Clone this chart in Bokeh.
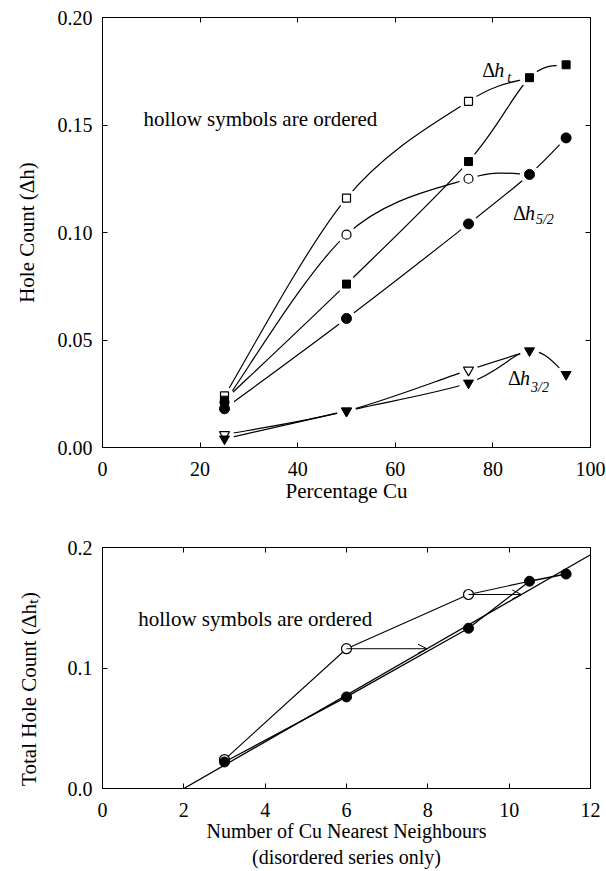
import numpy as np
from bokeh.plotting import figure
from bokeh.layouts import column
from bokeh.models import (Label, FixedTicker, PrintfTickFormatter, LinearAxis,
                          Arrow, OpenHead, CustomJSTickFormatter)
from bokeh.embed import file_html
from bokeh.resources import INLINE

# ---- data -------------------------------------------------------------
# upper panel: hole counts against percentage Cu
pct_cu = [25, 50, 75, 87.5, 95]          # disordered series
pct_cu_ord = [25, 50, 75, 87.5]          # ordered series

ht_dis = [0.022, 0.076, 0.133, 0.172, 0.178]     # Δh_t, filled squares
ht_ord = [0.024, 0.116, 0.161, 0.172]            # Δh_t, hollow squares
h52_dis = [0.018, 0.060, 0.104, 0.127, 0.144]    # Δh_5/2, filled circles
h52_ord = [0.021, 0.099, 0.125, 0.127]           # Δh_5/2, hollow circles
h32_dis = [0.004, 0.017, 0.030, 0.045, 0.034]    # Δh_3/2, filled triangles
h32_ord = [0.006, 0.017, 0.036, 0.045]           # Δh_3/2, hollow triangles

# lower panel: total hole count against number of Cu nearest neighbours
nn_cu = [3, 6, 9, 10.5, 11.4]
nn_cu_ord = [3, 6, 9, 10.5]
fit_x0 = 2.0        # linear fit crosses zero here
fit_slope = 0.0194  # per neighbour
fit_xend = 12.0

top_xticks = [0, 20, 40, 60, 80, 100]
top_yticks = [0.0, 0.05, 0.10, 0.15, 0.20]
bot_xticks = [0, 2, 4, 6, 8, 10, 12]
bot_yticks = [0.0, 0.1, 0.2]

SERIF = "Liberation Serif, Times New Roman, serif"


def catmull_bezier(xs, ys):
    """Bezier control points for a smooth curve through the given points."""
    P = [np.array([x, y], dtype=float) for x, y in zip(xs, ys)]
    n = len(P)
    out = {k: [] for k in ("x0", "y0", "x1", "y1", "cx0", "cy0", "cx1", "cy1")}
    for i in range(n - 1):
        p0 = P[i - 1] if i > 0 else P[i]
        p1, p2 = P[i], P[i + 1]
        p3 = P[i + 2] if i + 2 < n else P[i + 1]
        c1 = p1 + (p2 - p0) / 6.0
        c2 = p2 - (p3 - p1) / 6.0
        out["x0"].append(p1[0]); out["y0"].append(p1[1])
        out["x1"].append(p2[0]); out["y1"].append(p2[1])
        out["cx0"].append(c1[0]); out["cy0"].append(c1[1])
        out["cx1"].append(c2[0]); out["cy1"].append(c2[1])
    return out


def style_axes(p, xticks, yticks, yfmt, xstand, ystand, fsize,
               xlabel, ylabel, xl_stand, yl_stand, xl_size, yl_size):
    p.xaxis.ticker = FixedTicker(ticks=xticks)
    p.yaxis.ticker = FixedTicker(ticks=yticks)
    p.yaxis.formatter = PrintfTickFormatter(format=yfmt)
    for ax in (p.xaxis[0], p.yaxis[0]):
        ax.major_tick_in = 5
        ax.major_tick_out = 0
        ax.minor_tick_line_color = None
        ax.axis_line_color = "black"
        ax.major_tick_line_color = "black"
        ax.major_label_text_font = SERIF
        ax.major_label_text_font_size = fsize
        ax.major_label_text_color = "black"
        ax.axis_label_text_font = SERIF
        ax.axis_label_text_font_style = "normal"
        ax.axis_label_text_color = "black"
    p.xaxis.major_label_standoff = xstand
    p.yaxis.major_label_standoff = ystand
    p.xaxis.axis_label = xlabel
    p.yaxis.axis_label = ylabel
    p.xaxis.axis_label_standoff = xl_stand
    p.yaxis.axis_label_standoff = yl_stand
    p.xaxis.axis_label_text_font_size = xl_size
    p.yaxis.axis_label_text_font_size = yl_size
    # mirrored tick marks on the opposite sides
    blank = CustomJSTickFormatter(code="return ''")
    for side, ticks in (("right", yticks), ("above", xticks)):
        ax = LinearAxis(ticker=FixedTicker(ticks=ticks), formatter=blank,
                        major_tick_in=5, major_tick_out=0,
                        minor_tick_line_color=None, axis_line_color="black",
                        major_label_standoff=0)
        p.add_layout(ax, side)
    p.grid.visible = False
    p.outline_line_color = "black"
    p.outline_line_width = 1


def text(p, x, y, s, size, style="normal", xo=0, yo=0, align="left"):
    p.add_layout(Label(x=x, y=y, text=s, text_font=SERIF,
                       text_font_size=f"{size}px", text_font_style=style,
                       text_color="black", x_offset=xo, y_offset=yo,
                       text_align=align, text_baseline="alphabetic"))


# ---- upper panel ------------------------------------------------------
top = figure(width=606, height=505, x_range=(0, 100), y_range=(0, 0.2),
             output_backend="svg", toolbar_location=None,
             min_border_left=100, min_border_right=16,
             min_border_top=17, min_border_bottom=58,
             background_fill_color="white", border_fill_color="white")
style_axes(top, top_xticks, top_yticks, "%.2f", 14, 10, "20px",
           "Percentage Cu", "Hole Count (Δh)", 0, 16, "21px", "21px")

curves = [(pct_cu, ht_dis), (pct_cu_ord, ht_ord), (pct_cu, h52_dis),
          (pct_cu_ord, h52_ord), (pct_cu, h32_dis), (pct_cu_ord, h32_ord)]
for xs, ys in curves:
    top.bezier(**catmull_bezier(xs, ys), line_color="black", line_width=1.2)

# white halos break each curve just short of its symbols
halo_x = pct_cu * 3 + pct_cu_ord * 3
halo_y = ht_dis + h52_dis + h32_dis + ht_ord + h52_ord + h32_ord
top.scatter(halo_x, halo_y, marker="circle", size=19, fill_color="white",
            line_color=None)

# ordered (hollow) symbols first, disordered (filled) on top
top.scatter(pct_cu_ord[:3], ht_ord[:3], marker="square", size=8,
            fill_color="white", line_color="black", line_width=1.2)
top.scatter(pct_cu_ord[:3], h52_ord[:3], marker="circle", size=9,
            fill_color="white", line_color="black", line_width=1.2)
top.scatter(pct_cu_ord[:3], h32_ord[:3], marker="inverted_triangle", size=10,
            fill_color="white", line_color="black", line_width=1.2)
top.scatter(pct_cu, ht_dis, marker="square", size=8, fill_color="black",
            line_color="black")
top.scatter(pct_cu, h52_dis, marker="circle", size=10, fill_color="black",
            line_color="black")
top.scatter(pct_cu, h32_dis, marker="inverted_triangle", size=10,
            fill_color="black", line_color="black")

text(top, 8.4, 0.153, "hollow symbols are ordered", 21)

# curve labels: Δ upright, h italic, subscript italic
for (lx, ly, sub, sx, sy) in [(77.8, 0.1758, "t", 25, -8),
                              (84.1, 0.1093, "5/2", 23, -7),
                              (83.1, 0.0321, "3/2", 23, -9)]:
    text(top, lx, ly, "Δ", 20)
    text(top, lx, ly, "h", 20, style="italic", xo=12)
    text(top, lx, ly, sub, 14, style="italic", xo=sx, yo=sy)

# ---- lower panel ------------------------------------------------------
bot = figure(width=606, height=366, x_range=(0, 12), y_range=(0, 0.2),
             output_backend="svg", toolbar_location=None,
             min_border_left=102, min_border_right=15,
             min_border_top=42, min_border_bottom=83,
             background_fill_color="white", border_fill_color="white")
# trailing em spaces push the centred title toward the lower end of the axis
style_axes(bot, bot_xticks, bot_yticks, "%.1f", 14, 10, "20px",
           "Number of Cu Nearest Neighbours\n(disordered series only)",
           "Total Hole Count (Δhₜ)\u2003\u2003", 0, 24, "20px", "21px")

fit_xs = [fit_x0, fit_xend]
fit_ys = [0.0, fit_slope * (fit_xend - fit_x0)]
bot.line(fit_xs, fit_ys, line_color="black", line_width=1.3)
bot.line(nn_cu, ht_dis, line_color="black", line_width=1.3)
bot.line(nn_cu_ord, ht_ord, line_color="black", line_width=1.1)

# arrows from ordered points across to the fitted line
for i in (1, 2):
    y = ht_ord[i]
    x_end = fit_x0 + y / fit_slope
    bot.add_layout(Arrow(x_start=nn_cu_ord[i], y_start=y, x_end=x_end, y_end=y,
                         line_color="black", line_width=1,
                         end=OpenHead(size=9, line_color="black", line_width=1)))

bot.scatter(nn_cu_ord[:3], ht_ord[:3], marker="circle", size=10,
            fill_color="white", line_color="black", line_width=1.2)
bot.scatter(nn_cu, ht_dis, marker="circle", size=10, fill_color="black",
            line_color="black")

text(bot, 0.88, 0.141, "hollow symbols are ordered", 21)

layout = column(top, bot, spacing=0)
open("out.html", "w").write(file_html(layout, INLINE))
